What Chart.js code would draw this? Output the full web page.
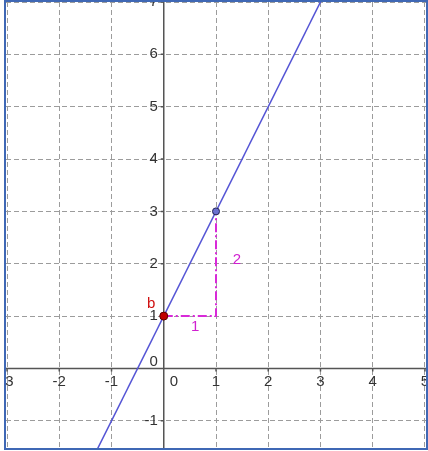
<!DOCTYPE html>
<html>
<head>
<meta charset="utf-8">
<script src="https://cdn.jsdelivr.net/npm/chart.js@4.4.0/dist/chart.umd.min.js"></script>
<style>
body { margin: 0; background: #fff; }
#frame { position: absolute; left: 4px; top: 0px; width: 420px; height: 446px; border: 2px solid #3f68b5; }
canvas { display: block; }
</style>
</head>
<body>
<div id="frame"><canvas id="myChart" width="420" height="446"></canvas></div>
<script>
var ctx = document.getElementById("myChart").getContext('2d');

// grid / tick values
var gridX = [-3, -2, -1, 0, 1, 2, 3, 4, 5];
var gridY = [-1, 0, 1, 2, 3, 4, 5, 6, 7];
var xTickLabels = ['-3', '-2', '-1', '0', '1', '2', '3', '4', '5'];
var yTickLabels = ['-1', '0', '1', '2', '3', '4', '5', '6', '7'];

// line y = 2x + 1 (end points, clipped by the area)
var lineX = [-1.5, 3.5];
var lineY = [-2, 8];

// slope triangle
var slopeX = [0, 1, 1];
var slopeY = [1, 1, 3];

// points
var pointBX = [0];
var pointBY = [1];
var pointAX = [1];
var pointAY = [3];

// text labels on the plot
var noteText = ['b', '1', '2'];
var noteX = [-0.24, 0.6, 1.4];
var noteY = [1.23, 0.79, 2.07];
var noteColor = ['#d01010', '#d020d0', '#d020d0'];

function toPoints(xs, ys) {
    return xs.map((x, i) => ({ x: x, y: ys[i] }));
}

const font = '15px "Liberation Sans", Arial, sans-serif';

const axesPlugin = {
    id: 'axes',
    beforeDatasetsDraw(chart) {
        const c = chart.ctx;
        const xs = chart.scales.x;
        const ys = chart.scales.y;
        const area = chart.chartArea;
        const x0 = xs.getPixelForValue(0);
        const y0 = ys.getPixelForValue(0);
        c.save();
        c.strokeStyle = '#555';
        c.lineWidth = 1.5;
        c.beginPath();
        c.moveTo(area.left, y0);
        c.lineTo(area.right, y0);
        c.moveTo(x0, area.top);
        c.lineTo(x0, area.bottom);
        // small tick marks
        gridX.forEach(v => {
            if (v === 0) return;
            const px = xs.getPixelForValue(v);
            c.moveTo(px, y0);
            c.lineTo(px, y0 + 3);
        });
        gridY.forEach(v => {
            if (v === 0) return;
            const py = ys.getPixelForValue(v);
            c.moveTo(x0, py);
            c.lineTo(x0 - 3, py);
        });
        c.stroke();

        c.font = font;
        c.fillStyle = '#333';
        c.textBaseline = 'middle';
        gridX.forEach((v, i) => {
            const px = xs.getPixelForValue(v);
            if (v === 0) {
                c.textAlign = 'left';
                c.fillText(xTickLabels[i], px + 6, y0 + 13.5);
            } else {
                c.textAlign = 'center';
                c.fillText(xTickLabels[i], px, y0 + 13.5);
            }
        });
        c.textAlign = 'right';
        gridY.forEach((v, i) => {
            const py = ys.getPixelForValue(v);
            if (v === 0) {
                c.fillText(yTickLabels[i], x0 - 6, py - 7);
            } else {
                c.fillText(yTickLabels[i], x0 - 6, py);
            }
        });
        c.restore();
    },
    afterDraw(chart) {
        const c = chart.ctx;
        const xs = chart.scales.x;
        const ys = chart.scales.y;
        c.save();
        c.font = font;
        c.textAlign = 'center';
        c.textBaseline = 'middle';
        noteText.forEach((t, i) => {
            c.fillStyle = noteColor[i];
            c.fillText(t, xs.getPixelForValue(noteX[i]), ys.getPixelForValue(noteY[i]));
        });
        c.restore();
    }
};

const gridOpts = {
    color: (context) => (context.tick && context.tick.value === 0) ? 'rgba(0,0,0,0)' : '#9c9c9c',
    lineWidth: 1,
    drawTicks: false
};

var myChart = new Chart(ctx, {
    type: 'scatter',
    data: {
        datasets: [
            {
                type: 'line',
                data: toPoints(slopeX, slopeY),
                borderColor: '#d82ad8',
                borderWidth: 2,
                borderDash: [9, 3, 2, 3],
                pointRadius: 0,
                fill: false,
                order: 3
            },
            {
                type: 'line',
                data: toPoints(lineX, lineY),
                borderColor: '#5555d5',
                borderWidth: 1.5,
                pointRadius: 0,
                fill: false,
                order: 2
            },
            {
                data: toPoints(pointBX, pointBY),
                backgroundColor: '#c00000',
                borderColor: '#5a0000',
                borderWidth: 1,
                pointRadius: 4,
                order: 1
            },
            {
                data: toPoints(pointAX, pointAY),
                backgroundColor: '#6a70d0',
                borderColor: '#222255',
                borderWidth: 1,
                pointRadius: 3.5,
                order: 0
            }
        ]
    },
    options: {
        responsive: false,
        animation: false,
        layout: { padding: 0, autoPadding: false },
        plugins: {
            legend: { display: false },
            tooltip: { enabled: false }
        },
        scales: {
            x: {
                type: 'linear',
                min: -3.02,
                max: 5.02,
                afterBuildTicks: (scale) => { scale.ticks = gridX.map(v => ({ value: v })); },
                ticks: { display: false },
                grid: gridOpts,
                border: { display: false, dash: [5, 3] }
            },
            y: {
                type: 'linear',
                min: -1.52,
                max: 7.0,
                afterBuildTicks: (scale) => { scale.ticks = gridY.map(v => ({ value: v })); },
                ticks: { display: false },
                grid: gridOpts,
                border: { display: false, dash: [5, 3] }
            }
        }
    },
    plugins: [axesPlugin]
});
</script>
</body>
</html>
